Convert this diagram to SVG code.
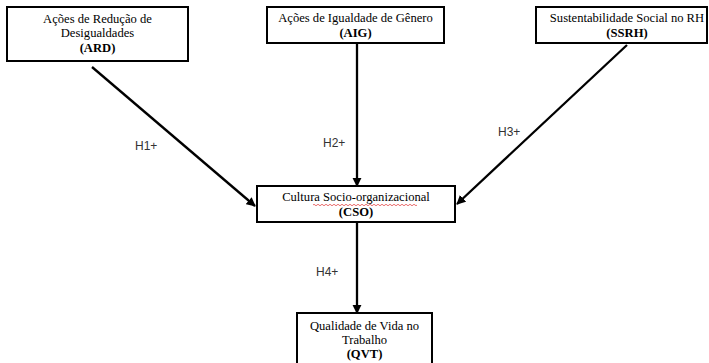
<svg xmlns="http://www.w3.org/2000/svg" width="709" height="363" viewBox="0 0 709 363">
<style>
.box{fill:#fff;stroke:#000;stroke-width:2}
.t{font-family:"Liberation Serif","Times New Roman",serif;font-size:12.6px;fill:#000;text-anchor:middle}
.b{font-weight:bold}
.lbl{font-family:"Liberation Sans",Arial,sans-serif;font-size:12px;fill:#333}
.edge{stroke:#000;stroke-width:2.3;fill:none;marker-end:url(#ah)}
</style>
<defs>
<marker id="ah" viewBox="0 0 10 10" refX="9" refY="5" markerWidth="4" markerHeight="4" orient="auto" markerUnits="strokeWidth">
<path d="M0,0 L10,5 L0,10 z" fill="#000"/>
</marker>
</defs>
<rect width="709" height="363" fill="#fff"/>
<g id="connectors">
<line class="edge" x1="92" y1="67" x2="255" y2="206"/>
<line class="edge" x1="357" y1="43" x2="357" y2="186"/>
<line class="edge" x1="627" y1="45" x2="457" y2="204"/>
<line class="edge" x1="357" y1="222" x2="357" y2="313"/>
<text class="lbl" x="135" y="150">H1+</text>
<text class="lbl" x="323" y="147">H2+</text>
<text class="lbl" x="498" y="136">H3+</text>
<text class="lbl" x="316" y="276">H4+</text>
</g>
<g id="ARD">
<rect class="box" x="7" y="7" width="181" height="54"/>
<text class="t" x="97.5" y="23">Ações de Redução de</text>
<text class="t" x="97.5" y="37">Desigualdades</text>
<text class="t b" x="97.5" y="52">(ARD)</text>
</g>
<g id="AIG">
<rect class="box" x="267" y="7" width="177" height="36"/>
<text class="t" x="355.5" y="22">Ações de Igualdade de Gênero</text>
<text class="t b" x="355.5" y="37">(AIG)</text>
</g>
<g id="SSRH">
<rect class="box" x="536" y="7" width="171" height="36"/>
<text class="t" x="627" y="22">Sustentabilidade Social no RH</text>
<text class="t b" x="627" y="37">(SSRH)</text>
</g>
<g id="CSO">
<rect class="box" x="257" y="186" width="198" height="36"/>
<text class="t" x="356" y="201">Cultura Socio-organizacional</text>
<path d="M313,205 q1,-1.5 2,0 t2,0 t2,0 t2,0 t2,0 t2,0 t2,0 t2,0 t2,0 t2,0 t2,0 t2,0 t2,0 t2,0 t2,0 t2,0 t2,0 t2,0 t2,0 t2,0 t2,0 t2,0 t2,0 t2,0 t2,0 t2,0 t2,0 t2,0 t2,0 t2,0 t2,0 t2,0 t2,0 t2,0 t2,0 t2,0 t2,0 t2,0 t2,0 t2,0 t2,0 t2,0 t2,0 t2,0 t2,0 t2,0 t2,0 t2,0 t2,0 t2,0 t2,0 t2,0" fill="none" stroke="#e03030" stroke-width="0.7"/>
<text class="t b" x="356" y="216">(CSO)</text>
</g>
<g id="QVT">
<rect class="box" x="297" y="313" width="135" height="54"/>
<text class="t" x="364.5" y="330">Qualidade de Vida no</text>
<text class="t" x="364.5" y="344">Trabalho</text>
<text class="t b" x="364.5" y="358">(QVT)</text>
</g>
</svg>
